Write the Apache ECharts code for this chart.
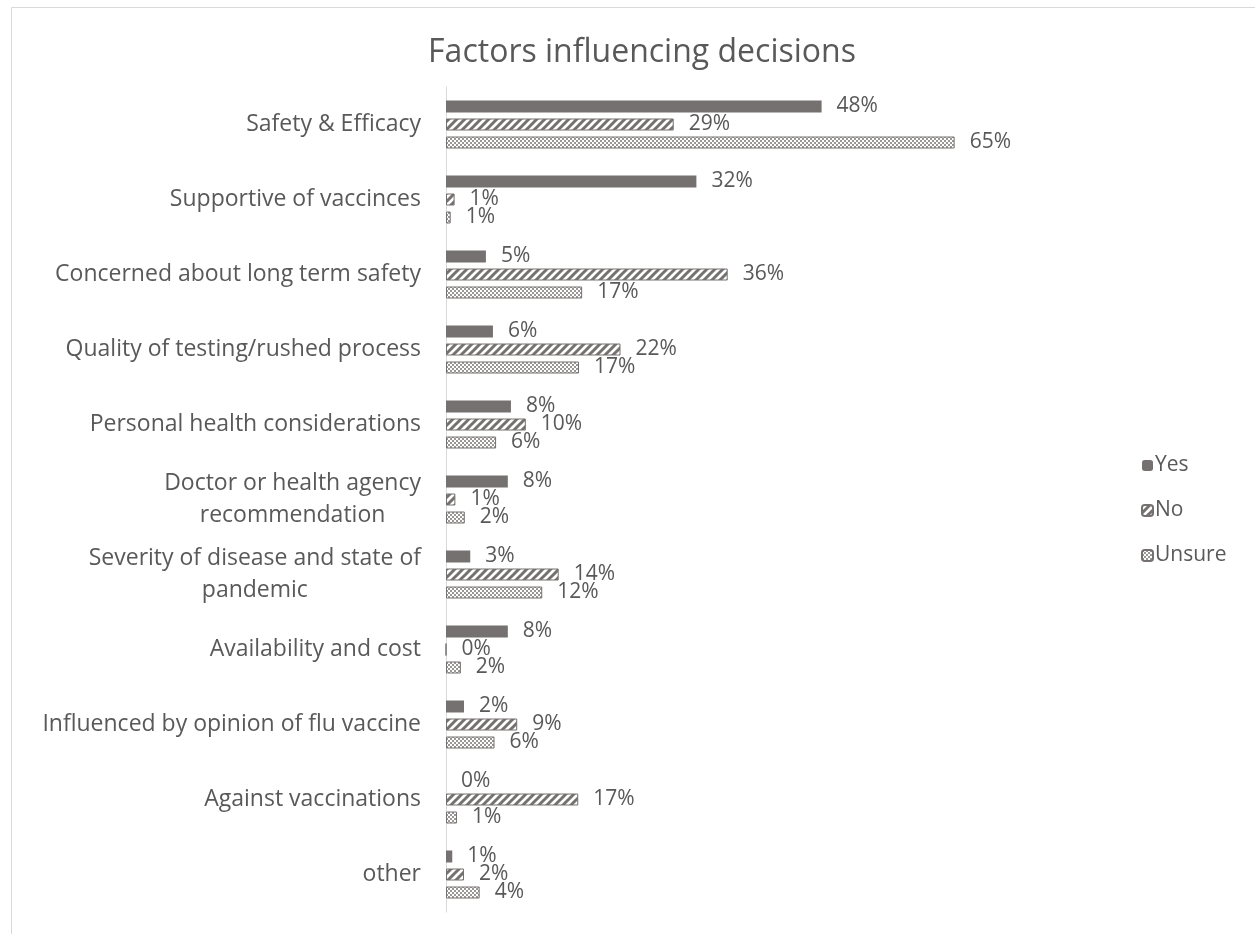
<!DOCTYPE html>
<html><head><meta charset="utf-8">
<script src="https://cdn.jsdelivr.net/npm/echarts@6/dist/echarts.min.js"></script>
<style>html,body{margin:0;padding:0;background:#fff;}#c{width:1255px;height:934px;}</style>
</head><body><div id="c"></div>
<script>
const categories = [
  "Safety & Efficacy",
  "Supportive of vaccinces",
  "Concerned about long term safety",
  "Quality of testing/rushed process",
  "Personal health considerations",
  "Doctor or health agency\nrecommendation",
  "Severity of disease and state of\npandemic",
  "Availability and cost",
  "Influenced by opinion of flu vaccine",
  "Against vaccinations",
  "other"
];
const yesValues =    [48.0, 32.0, 5.1, 6.0, 8.3, 7.9, 3.1, 7.9, 2.3, 0.0, 0.8];
const noValues =     [29.1, 1.1, 36.0, 22.3, 10.2, 1.2, 14.4, 0.0, 9.1, 16.9, 2.3];
const unsureValues = [65.0, 0.6, 17.4, 17.0, 6.4, 2.4, 12.3, 1.9, 6.2, 1.4, 4.3];
const seriesNames = ["Yes", "No", "Unsure"];

const GRAY = '#767171';
function stripePattern() {
  const c = document.createElement('canvas');
  c.width = 8; c.height = 8;
  const g = c.getContext('2d');
  g.fillStyle = '#fff'; g.fillRect(0, 0, 8, 8);
  g.strokeStyle = GRAY; g.lineWidth = 3;
  g.beginPath();
  g.moveTo(-2, 10); g.lineTo(10, -2);
  g.moveTo(-6, 6); g.lineTo(6, -6);
  g.moveTo(2, 14); g.lineTo(14, 2);
  g.stroke();
  return c;
}
function checkPattern() {
  const c = document.createElement('canvas');
  c.width = 4; c.height = 4;
  const g = c.getContext('2d');
  g.fillStyle = '#fff'; g.fillRect(0, 0, 4, 4);
  g.fillStyle = '#9a9696';
  g.fillRect(0, 0, 2, 2); g.fillRect(2, 2, 2, 2);
  return c;
}

const chart = echarts.init(document.getElementById('c'), null, {renderer: 'canvas'});
const labelCommon = {
  show: true, position: 'right', distance: 15,
  fontFamily: 'Open Sans', fontSize: 21, color: '#595959',
  formatter: p => Math.round(p.value) + '%'
};
function mkSeries(name, data, itemStyle) {
  return {
    name, type: 'bar', data, barWidth: 12, barGap: '50%',
    itemStyle, label: labelCommon, emphasis: {disabled: true}
  };
}
const option = {
  animation: false,
  backgroundColor: '#fff',
  title: {
    text: 'Factors influencing decisions', left: 637, top: 32, textAlign: 'center',
    textStyle: {fontFamily: 'Open Sans', fontSize: 32, fontWeight: 'normal', color: '#595959'}
  },
  legend: {
    orient: 'vertical', left: 1136, top: 450, itemWidth: 11, itemHeight: 11, itemGap: 24,
    data: seriesNames,
    textStyle: {fontFamily: 'Open Sans', fontSize: 21, color: '#595959', padding: [0,0,0,-3]}
  },
  grid: {left: 446, top: 87, width: 626, height: 825, containLabel: false},
  xAxis: {
    type: 'value', min: 0, max: 80, show: false
  },
  yAxis: {
    type: 'category', data: categories, inverse: true,
    axisLine: {show: true, lineStyle: {color: '#d9d9d9', width: 1}},
    axisTick: {show: false},
    axisLabel: {
      margin: 25, fontFamily: 'Open Sans', fontSize: 23, color: '#595959', align: 'right',
      formatter: v => v.split('\n').map(s => '{c|' + s + '}').join('\n'),
      rich: {c: {align: 'center', fontFamily: 'Open Sans', fontSize: 23, color: '#595959', lineHeight: 32}}
    },
    splitLine: {show: false}
  },
  graphic: [{
    type: 'rect', shape: {x: 11.5, y: 7.5, width: 1300, height: 1000},
    style: {fill: 'none', stroke: '#d9d9d9', lineWidth: 1}, silent: true, z: -1
  }],
  series: [
    mkSeries('Yes', yesValues, {color: GRAY}),
    mkSeries('No', noValues, {color: {image: stripePattern(), repeat: 'repeat'}, borderColor: GRAY, borderWidth: 1}),
    mkSeries('Unsure', unsureValues, {color: {image: checkPattern(), repeat: 'repeat'}, borderColor: GRAY, borderWidth: 1})
  ]
};
chart.setOption(option);
</script>
</body></html>
